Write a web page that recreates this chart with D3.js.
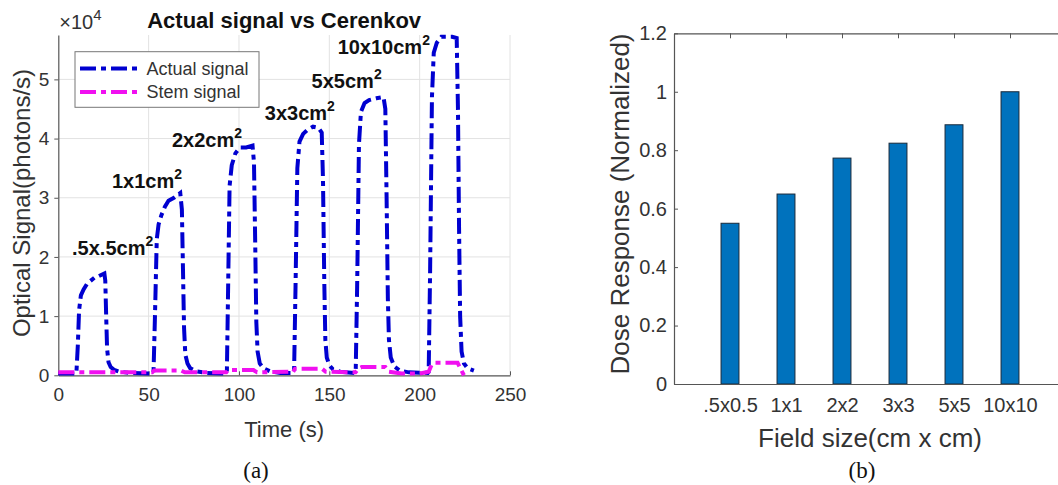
<!DOCTYPE html>
<html><head><meta charset="utf-8">
<script src="https://cdn.jsdelivr.net/npm/d3@7"></script>
<style>body{margin:0;background:#fff}svg{display:block}</style>
</head><body>
<script>
// ---------- Data: panel (a) ----------
const timeActual = [0,10,10.8,11.5,12.5,14,16,18,20,22,24,25.5,26,26.5,27,27.8,29,31,34,40,52,
  52.7,53.5,54.5,55.5,57,59,61,64,67.5,68.4,69,69.6,70.3,71.5,73,76,82,92.5,
  93.3,94,94.8,96,98,100.5,104,107.5,108.3,109,109.6,110.3,111.5,113.5,117,123,130,
  130.5,131.3,132.3,133.5,135.5,138,141,144,145.8,146.5,147.2,147.8,148.6,150,152,156,164,
  164.6,165.4,166.4,167.5,169.5,172,176,180,181,181.7,182.4,183,184,186,189,194,204.5,
  205,205.8,206.8,207.8,209.5,212,215,218,220.5,221.2,221.8,222.4,223.2,224.5,226.5,230];
const actualSignal = [300,300,5000,11000,13500,14500,15500,16000,16500,16700,17000,17200,16000,10000,4500,2200,1400,900,600,400,300,
  500,10000,23000,25500,27000,28500,29500,30000,30800,28000,18000,8000,3500,2000,1200,700,400,300,
  500,15000,32000,35500,37500,38500,38500,38800,36000,22000,9000,4000,2000,1200,700,400,400,
  600,15000,35000,39500,40800,41500,42000,41800,41000,33000,16000,6000,3000,1700,1000,600,400,
  500,15000,39000,44500,46000,46500,46800,47000,45000,30000,13000,6000,3000,1500,800,500,400,
  600,18000,47000,54500,56200,57200,57200,57200,57000,45000,25000,10000,4000,2000,1200,800];
const timeStem = [0,52,53,68,70,93,94,108,110,130,131,146,148,164.5,166,168,181,183,190,200,205,206.5,208,221,222.5,224.5];
const stemSignal = [500,500,800,800,500,500,900,900,500,600,1100,1100,600,500,1100,1400,1400,600,300,300,600,1700,2100,2100,1200,0];
const annoLabels = ['.5x.5cm','1x1cm','2x2cm','3x3cm','5x5cm','10x10cm'];
const annoTime = [7.6,29.7,62.9,114.3,140.2,154.6];
const annoLevel = [20300,31700,38500,43200,48500,54300];
const xTicksA = [0,50,100,150,200,250];
const yTicksA = [0,10000,20000,30000,40000,50000];
const seriesNames = ['Actual signal','Stem signal'];

// ---------- Data: panel (b) ----------
const fieldSizes = ['.5x0.5','1x1','2x2','3x3','5x5','10x10'];
const doseResponse = [0.55,0.65,0.773,0.824,0.887,1.0];
const yTicksB = [0,0.2,0.4,0.6,0.8,1,1.2];

const W = 1058, H = 485;
const svg = d3.select('body').append('svg').attr('width', W).attr('height', H)
  .style('font-family', 'Arial, "Liberation Sans", Helvetica, sans-serif');

const txt = '#333', axc = '#555', grid = '#e2e2e2';
const blue = '#0000d0', magenta = '#f010f0';
const dash = '16,5,5,5';

// ================= Panel (a) =================
const xA = d3.scaleLinear([0, 250], [58.3, 510]);
const yA = d3.scaleLinear([0, 57500], [375.3, 35]);
const gA = svg.append('g');

// grid
gA.append('g').selectAll('line').data(xTicksA.slice(1)).join('line')
  .attr('x1', d => xA(d)).attr('x2', d => xA(d)).attr('y1', yA.range()[0]).attr('y2', yA.range()[1])
  .attr('stroke', grid).attr('stroke-width', 1);
gA.append('g').selectAll('line').data(yTicksA.slice(1)).join('line')
  .attr('x1', xA.range()[0]).attr('x2', xA.range()[1]).attr('y1', d => yA(d)).attr('y2', d => yA(d))
  .attr('stroke', grid).attr('stroke-width', 1);

// axes
const axA_x = gA.append('g').attr('transform', `translate(0,${yA(0)})`)
  .call(d3.axisBottom(xA).tickValues(xTicksA).tickSize(-4).tickPadding(12).tickSizeOuter(0));
const axA_y = gA.append('g').attr('transform', `translate(${xA(0)},0)`)
  .call(d3.axisLeft(yA).tickValues(yTicksA).tickSize(4).tickPadding(5).tickSizeOuter(0)
    .tickFormat(d => d / 10000));
[axA_x, axA_y].forEach(a => {
  a.select('.domain').attr('stroke', axc).attr('stroke-width', 1.2);
  a.selectAll('.tick line').attr('stroke', axc);
  a.selectAll('.tick text').attr('fill', txt).attr('font-size', 19).attr('font-family', 'Arial, "Liberation Sans", sans-serif');
});
axA_x.selectAll('.tick text').attr('dy', '0.71em');

// exponent label
const ex = gA.append('text').attr('x', xA(0) + 1).attr('y', 29).attr('fill', txt).attr('font-size', 20);
ex.append('tspan').text('\u00d710');
ex.append('tspan').text('4').attr('font-size', 15).attr('dy', -9);

// lines
const lineA = d3.line().x(d => xA(d[0])).y(d => yA(d[1]));
const stemPts = timeStem.map((t, i) => [t, stemSignal[i]]);
const actPts = timeActual.map((t, i) => [t, actualSignal[i]]);
gA.append('path').datum(actPts).attr('d', lineA).attr('fill', 'none')
  .attr('stroke', blue).attr('stroke-width', 4).attr('stroke-dasharray', dash);
gA.append('path').datum(stemPts).attr('d', lineA).attr('fill', 'none')
  .attr('stroke', magenta).attr('stroke-width', 4).attr('stroke-dasharray', dash);

// annotations
annoLabels.forEach((lab, i) => {
  const t = gA.append('text').attr('x', xA(annoTime[i])).attr('y', yA(annoLevel[i]))
    .attr('font-size', 20).attr('font-weight', 'bold').attr('fill', '#111');
  t.append('tspan').text(lab);
  t.append('tspan').text('2').attr('font-size', 14).attr('dy', -9);
});

// title
gA.append('text').attr('x', (xA.range()[0] + xA.range()[1]) / 2).attr('y', 28)
  .attr('text-anchor', 'middle').attr('font-size', 22).attr('font-weight', 'bold').attr('fill', '#111')
  .text('Actual signal vs Cerenkov');

// axis labels
gA.append('text').attr('x', (xA.range()[0] + xA.range()[1]) / 2).attr('y', 437)
  .attr('text-anchor', 'middle').attr('font-size', 22).attr('fill', txt).text('Time (s)');
gA.append('text').attr('transform', 'translate(30,203) rotate(-90)')
  .attr('text-anchor', 'middle').attr('font-size', 24).attr('fill', txt).text('Optical Signal(photons/s)');

// legend
const lg = gA.append('g');
lg.append('rect').attr('x', 75).attr('y', 51.7).attr('width', 184).attr('height', 55.6)
  .attr('fill', '#fff').attr('stroke', '#777').attr('stroke-width', 1);
[blue, magenta].forEach((c, i) => {
  const yy = 68.5 + i * 23.5;
  lg.append('line').attr('x1', 80).attr('x2', 138).attr('y1', yy).attr('y2', yy)
    .attr('stroke', c).attr('stroke-width', 4).attr('stroke-dasharray', dash);
  lg.append('text').attr('x', 146.5).attr('y', yy).attr('dy', '0.35em')
    .attr('font-size', 18).attr('fill', txt).text(seriesNames[i]);
});

// caption
svg.append('text').attr('x', 256).attr('y', 478).attr('text-anchor', 'middle')
  .attr('font-family', '"Liberation Serif", "Times New Roman", serif').attr('font-size', 23).attr('fill', '#111').text('(a)');

// ================= Panel (b) =================
const xB = d3.scaleLinear([0, 7], [674, 1066]);
const yB = d3.scaleLinear([0, 1.2], [384, 33.3]);
const gB = svg.append('g');
const bw = xB(0.32) - xB(0);

gB.selectAll('rect.bar').data(doseResponse).join('rect').attr('class', 'bar')
  .attr('x', (d, i) => xB(i + 1) - bw / 2).attr('width', bw)
  .attr('y', d => yB(d)).attr('height', d => yB(0) - yB(d))
  .attr('fill', '#0072bd').attr('stroke', '#1a2a3a').attr('stroke-width', 1);

const axB_x = gB.append('g').attr('transform', `translate(0,${yB(0)})`)
  .call(d3.axisBottom(xB).tickValues(d3.range(1, fieldSizes.length + 1)).tickSize(0).tickPadding(14)
    .tickFormat(d => fieldSizes[d - 1]));
const axB_y = gB.append('g').attr('transform', `translate(${xB(0)},0)`)
  .call(d3.axisLeft(yB).tickValues(yTicksB).tickSize(-4).tickPadding(7).tickSizeOuter(0)
    .tickFormat(d => d3.format('~g')(d)));
const axB_top = gB.append('g').attr('transform', `translate(0,${yB(1.2)})`)
  .call(d3.axisTop(xB).tickValues(d3.range(1, fieldSizes.length + 1)).tickSize(-5).tickSizeOuter(0).tickFormat(''));
[axB_x, axB_y, axB_top].forEach(a => {
  a.select('.domain').attr('stroke', axc).attr('stroke-width', 1.2);
  a.selectAll('.tick line').attr('stroke', axc);
  a.selectAll('.tick text').attr('fill', txt).attr('font-size', 20).attr('font-family', 'Arial, "Liberation Sans", sans-serif');
});
axB_x.selectAll('.tick text').attr('dy', '0.71em');

gB.append('text').attr('x', 870).attr('y', 447).attr('text-anchor', 'middle')
  .attr('font-size', 26).attr('fill', txt).text('Field size(cm x cm)');
gB.append('text').attr('transform', 'translate(629,204) rotate(-90)')
  .attr('text-anchor', 'middle').attr('font-size', 26).attr('fill', txt).text('Dose Response (Normalized)');

svg.append('text').attr('x', 862).attr('y', 478).attr('text-anchor', 'middle')
  .attr('font-family', '"Liberation Serif", "Times New Roman", serif').attr('font-size', 23).attr('fill', '#111').text('(b)');
</script>
</body></html>
